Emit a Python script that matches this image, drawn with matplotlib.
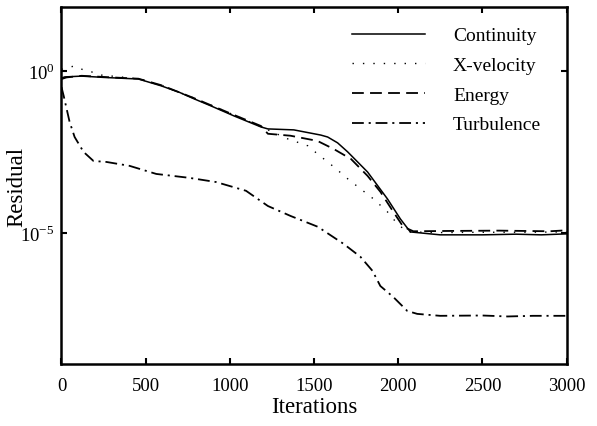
import numpy as np
import matplotlib
matplotlib.use("Agg")
import matplotlib.pyplot as plt

plt.rcParams['font.family'] = ['Liberation Serif', 'DejaVu Serif']
plt.rcParams['mathtext.fontset'] = 'custom'
plt.rcParams['mathtext.rm'] = 'Liberation Serif'
plt.rcParams['lines.scale_dashes'] = False

# residual curves (log10 of residual)
cont_it = [0, 19, 119, 250, 457, 592, 700, 787, 888, 1025, 1185, 1226, 1380, 1540,
           1581, 1640, 1700, 1818, 1936, 2013, 2072, 2249, 2500, 2700, 2850, 3000]
cont_res = [-0.22, -0.185, -0.16, -0.2, -0.25, -0.46, -0.66, -0.86, -1.08, -1.39, -1.73,
            -1.79, -1.82, -1.98, -2.04, -2.22, -2.50, -3.12, -3.95, -4.57, -4.97, -5.06,
            -5.06, -5.04, -5.06, -5.03]

xvel_it = [0, 48, 78, 131, 179, 220, 457, 592, 787, 1025, 1185, 1345, 1463, 1499,
           1617, 1700, 1776, 1853, 1936, 1995, 2054, 2249, 2500, 2750, 3000]
xvel_res = [0.05, 0.12, 0.15, 0.03, -0.03, -0.12, -0.24, -0.44, -0.84, -1.36, -1.72,
            -2.10, -2.31, -2.47, -2.96, -3.33, -3.64, -3.95, -4.35, -4.72, -4.97,
            -4.99, -4.98, -4.98, -4.97]

energy_it = [0, 30, 120, 300, 457, 592, 787, 1025, 1185, 1226, 1360, 1520, 1617,
             1720, 1818, 1894, 1971, 2030, 2090, 2300, 2600, 2900, 3000]
energy_res = [-0.25, -0.2, -0.15, -0.2, -0.24, -0.44, -0.84, -1.36, -1.7, -1.94,
              -2.0, -2.16, -2.41, -2.72, -3.24, -3.73, -4.35, -4.81, -4.95, -4.94,
              -4.93, -4.95, -4.92]

turb_it = [0, 13, 48, 78, 131, 190, 267, 404, 563, 758, 918, 1096, 1226, 1362, 1522,
           1676, 1776, 1847, 1894, 1971, 2054, 2113, 2249, 2500, 2650, 2800, 3000]
turb_res = [-0.5, -0.77, -1.57, -2.04, -2.50, -2.78, -2.81, -2.93, -3.18, -3.30, -3.43,
            -3.70, -4.17, -4.48, -4.81, -5.34, -5.74, -6.17, -6.64, -6.98, -7.41,
            -7.50, -7.56, -7.55, -7.58, -7.56, -7.56]

fig = plt.figure(figsize=(5.97, 4.27), dpi=100)
ax = fig.add_axes([0.103, 0.145, 0.846, 0.836])

ax.plot(cont_it, 10 ** np.array(cont_res), 'k-', lw=1.1, label='Continuity')
ax.plot(xvel_it, 10 ** np.array(xvel_res), color='k', lw=1.0, dashes=(1, 6.5), label='X-velocity')
ax.plot(energy_it, 10 ** np.array(energy_res), color='k', lw=1.3, dashes=(8.5, 4.5), label='Energy')
ax.plot(turb_it, 10 ** np.array(turb_res), color='k', lw=1.3, dashes=(8.5, 3.5, 1.5, 3.5), label='Turbulence')

ax.set_yscale('log')
ax.set_xlim(10, 3000)
ax.set_ylim(10 ** -9.05, 10 ** 1.97)
ax.set_yticks([1e-5, 1e0])
ax.set_yticklabels([r'$10^{-5}$', r'$10^{0}$'])
ax.yaxis.set_minor_locator(matplotlib.ticker.NullLocator())
ax.set_xticks([0, 500, 1000, 1500, 2000, 2500, 3000])

ax.tick_params(direction='in', length=4, width=1.5, top=True, right=True,
               labelsize=13.5)
ax.tick_params(axis='x', pad=9)
ax.tick_params(axis='y', pad=5)
for s in ax.spines.values():
    s.set_linewidth(1.8)

ax.set_xlabel('Iterations', fontsize=16.5, labelpad=2)
ax.set_ylabel('Residual', fontsize=16.5)
ax.yaxis.set_label_coords(-0.068, 0.5)

ax.legend(loc='upper left', bbox_to_anchor=(0.575, 0.945), frameon=False,
          fontsize=14, handlelength=3.75, handletextpad=1.45, labelspacing=0.62,
          borderpad=0, borderaxespad=0)

fig.savefig('out.png', dpi=100)
